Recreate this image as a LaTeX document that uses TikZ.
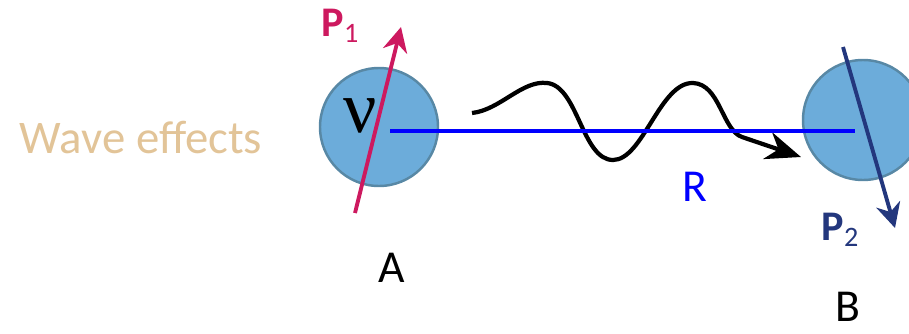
\documentclass[tikz,border=0pt]{standalone}
\usepackage{fontspec}
\setmainfont{Carlito}
\newfontfamily\nufont{Liberation Serif}
\usetikzlibrary{arrows.meta}
\definecolor{ballblue}{RGB}{108,172,218}
\definecolor{balledge}{RGB}{88,136,165}
\definecolor{pone}{RGB}{205,25,95}
\definecolor{ptwo}{RGB}{35,55,125}
\definecolor{wavetext}{RGB}{226,196,152}
\begin{document}
\begin{tikzpicture}[x=0.01cm, y=-0.01cm,
		ball/.style={fill=ballblue, draw=balledge, line width=0.7pt},
		spin/.style={line width=1.1pt, -{Stealth[length=7pt, width=7pt]}},
		lbl/.style={font=\fontsize{13}{15}\selectfont},
		plbl/.style={font=\fontsize{12}{14}\selectfont}]
		\clip (0, 0) rectangle (909, 333);

		% the two particles
		\fill[ball] (379, 127) circle (59);
		\fill[ball] (863, 120) circle (60);
		\node[lbl, anchor=base] (A) at (392, 282) {A};
		\node[lbl, anchor=base, inner sep=0pt] (B) at (848, 321) {B};

		% spins
		\coordinate (p1a) at (355, 213);
		\coordinate (p1b) at (401, 27);
		\draw[spin, pone] (p1a) -- (p1b);
		\node[plbl, pone] (P1) at (341, 26) {\textbf{P}\textsubscript{1}};
		\coordinate (p2a) at (843, 47);
		\coordinate (p2b) at (895, 228);
		\draw[spin, ptwo] (p2a) -- (p2b);
		\node[plbl, ptwo] (P2) at (841, 230) {\textbf{P}\textsubscript{2}};

		\node[font=\fontsize{21}{23}\nufont] (nu) at (360, 116) {ν};

		% the wave going from A to B
		\coordinate (w0) at (472, 113);
		\coordinate (w1) at (547, 83);
		\coordinate (w2) at (613, 160);
		\coordinate (w3) at (693, 83);
		\coordinate (w4) at (742, 137);
		\coordinate (w5) at (801, 157);
		\draw[line width=1.2pt, -{Stealth[length=10pt, width=8pt]}]
			(w0) .. controls (500, 110) and (522, 80) .. (w1)
			.. controls (578, 86) and (582, 160) .. (w2)
			.. controls (643, 160) and (660, 82) .. (w3)
			.. controls (720, 84) and (722, 130) .. (w4) -- (w5);

		% separation
		\coordinate (ra) at (390, 131);
		\coordinate (rb) at (855, 131);
		\draw[blue, line width=1.2pt] (ra) -- (rb);
		\node[lbl, blue] (R) at (695, 187) {R};

		\node[font=\fontsize{13.3}{15}\selectfont, wavetext] (wave) at (141, 138) {Wave effects};
	\end{tikzpicture}
\end{document}
